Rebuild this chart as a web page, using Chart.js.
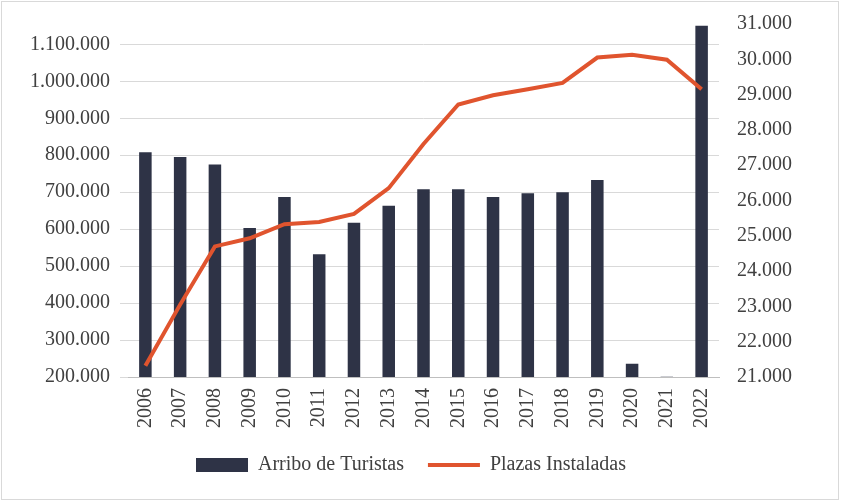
<!DOCTYPE html>
<html><head><meta charset="utf-8">
<script src="https://cdn.jsdelivr.net/npm/chart.js@4"></script>
<style>
body{margin:0;background:#fff}
#wrap{position:absolute;left:1px;top:1px;width:838px;height:499px;border:1px solid #d9d9d9;box-sizing:border-box}
</style></head><body>
<div id="wrap"><canvas id="c"></canvas></div>
<script>
const years = ['2006','2007','2008','2009','2010','2011','2012','2013','2014','2015','2016','2017','2018','2019','2020','2021','2022'];
const arribos = [808000,795000,775000,603000,687000,532000,617000,663000,708000,708000,687000,697000,700000,733000,236000,201000,1150000];
const plazas = [21320,23050,24700,24930,25330,25390,25620,26350,27600,28720,28980,29150,29330,30050,30130,29990,29150];
const leftTicks = [200000,300000,400000,500000,600000,700000,800000,900000,1000000,1100000];

const fmt = v => v.toLocaleString('de-DE');
Chart.defaults.font.family = '"Liberation Serif", serif';
Chart.defaults.font.size = 20;
Chart.defaults.color = '#404040';

new Chart(document.getElementById('c'), {
  data: {
    labels: years,
    datasets: [
      { type: 'line', label: 'Plazas Instaladas', data: plazas, yAxisID: 'y2',
        borderColor: '#e0542e', backgroundColor: '#e0542e', borderWidth: 4, pointRadius: 0, pointStyle: 'line', tension: 0, order: 0 },
      { type: 'bar', label: 'Arribo de Turistas', data: arribos, yAxisID: 'y',
        backgroundColor: '#2e3346', barPercentage: 0.36, categoryPercentage: 1, pointStyle: 'rect', order: 1 }
    ]
  },
  options: {
    responsive: true, maintainAspectRatio: false, animation: false,
    layout: { padding: { left: 18, right: 36, top: 14, bottom: 14 } },
    plugins: {
      legend: { position: 'bottom', reverse: true,
        labels: { usePointStyle: true, pointStyleWidth: 52, boxHeight: 14, padding: 24, color: '#404040' } },
      tooltip: { enabled: false }
    },
    scales: {
      x: { grid: { display: false }, border: { color: '#bfbfbf' },
        ticks: { maxRotation: 90, minRotation: 90 } },
      y: { position: 'left', min: 200000, max: 1155000,
        afterBuildTicks: a => { a.ticks = leftTicks.map(v => ({ value: v })); },
        ticks: { callback: v => fmt(v), padding: 10 },
        grid: { color: '#d9d9d9' }, border: { display: false } },
      y2: { position: 'right', min: 21000, max: 31000,
        ticks: { stepSize: 1000, callback: v => fmt(v), padding: 10 },
        grid: { display: false }, border: { display: false } }
    }
  }
});
</script>
</body></html>
